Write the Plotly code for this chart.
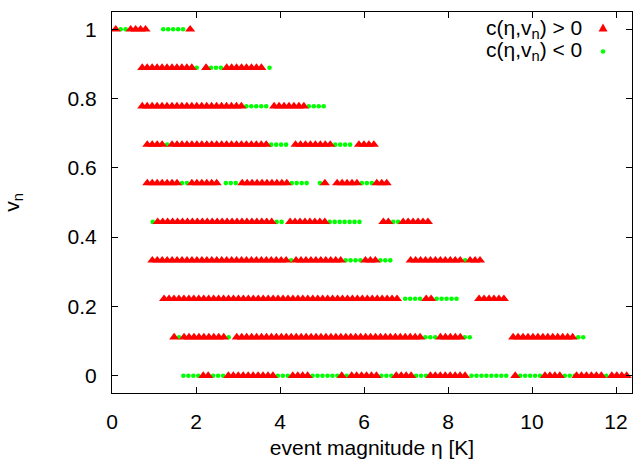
import plotly.graph_objects as go

# ---- data ----
# rows of v_n, each described by segments: (eta of first point, pattern)
# pattern chars: '+' -> c(eta, v_n) > 0, '-' -> c(eta, v_n) < 0
eta_step = 0.118
v_levels = [0.0, 0.111, 0.222, 0.333, 0.444, 0.556, 0.667, 0.778, 0.889, 1.0]

row_v0 = [(1.70, "----++---"), (2.77, "++++++++++---++++------"),
          (5.47, "+-++++++---++++---"), (7.58, "++++++++"),
          (8.56, "--------"), (9.60, "+-----++++---"), (11.06, "++++++-"),
          (11.90, "++++")]
row_v1 = [(1.48, "+-+++++++++-"), (2.97, "+" * 38), (7.46, "---"),
          (7.82, "+++++"), (8.40, "--"), (9.55, "+" * 13), (11.10, "--")]
row_v2 = [(1.24, "+" * 48), (6.98, "----"), (7.48, "++"), (7.73, "-----"),
          (8.74, "++++++")]
row_v3 = [(0.96, "+" * 28 + "-" + "+" * 10 + "----" + "+++" + "---"),
          (7.11, "+" * 11 + "-" + "+++")]
row_v4 = [(0.97, "-" + "+" * 24 + "--"), (4.24, "+" * 8 + "-------"),
          (6.46, "++--++++++")]
row_v5 = [(0.84, "+" * 7 + "--" + "+" * 6), (2.71, "---"),
          (3.10, "+" * 10 + "----"), (4.95, "-+"),
          (5.36, "+" * 5 + "---" + "+++")]
row_v6 = [(0.84, "++++-" + "+" * 20 + "----"), (4.37, "+" * 8 + "----"),
          (5.88, "++++")]
row_v7 = [(0.72, "+" * 21 + "-----"), (3.86, "+" * 7 + "----")]
row_v8 = [(0.72, "+" * 11 + "-"), (2.24, "+---"), (2.73, "+" * 8), (3.75, "-")]
row_v9 = [(0.09, "+--++++"), (1.22, "-----"), (1.86, "+")]

rows = [row_v0, row_v1, row_v2, row_v3, row_v4, row_v5, row_v6, row_v7,
        row_v8, row_v9]

x_ticks = [0, 2, 4, 6, 8, 10, 12]
y_ticks = [0, 0.2, 0.4, 0.6, 0.8, 1]
y_tick_labels = ["0", "0.2", "0.4", "0.6", "0.8", "1"]

pos_x, pos_y, neg_x, neg_y = [], [], [], []
for v, segs in zip(v_levels, rows):
    for start, pat in segs:
        for i, ch in enumerate(pat):
            e = start + i * eta_step
            if ch == "+":
                pos_x.append(e)
                pos_y.append(v)
            elif ch == "-":
                neg_x.append(e)
                neg_y.append(v)

FONT = "Liberation Sans, Arial, sans-serif"
FS = 21
RED = "#ff0000"
GREEN = "#00ff00"

fig = go.Figure()
fig.add_trace(go.Scatter(x=neg_x, y=neg_y, mode="markers", name="neg",
                         marker=dict(symbol="circle", size=4.6, color=GREEN,
                                     line=dict(width=0)),
                         showlegend=False, hoverinfo="x+y"))
fig.add_trace(go.Scatter(x=pos_x, y=pos_y, mode="markers", name="pos",
                         marker=dict(symbol="triangle-up", size=8.8, color=RED,
                                     line=dict(width=0)),
                         showlegend=False, hoverinfo="x+y"))

W, H = 633, 460
L, R, T, B = 112, 1, 12, 67
pw, ph = W - L - R, H - T - B


def px_x(p):
    return (p - L) / pw


def px_y(p):
    return (H - B - p) / ph


annotations = [
    dict(x=px_x(584), y=px_y(28.5), xref="paper", yref="paper",
         text="c(η,v<sub>n</sub>) > 0", showarrow=False, xanchor="right",
         yanchor="middle", font=dict(family=FONT, size=FS, color="black")),
    dict(x=px_x(584), y=px_y(51.5), xref="paper", yref="paper",
         text="c(η,v<sub>n</sub>) < 0", showarrow=False, xanchor="right",
         yanchor="middle", font=dict(family=FONT, size=FS, color="black")),
]

cx, cy = 603, 28.5
shapes = [
    dict(type="path", xref="paper", yref="paper",
         path=f"M {px_x(cx-4.5)} {px_y(cy+3)} L {px_x(cx+4.5)} {px_y(cy+3)} "
              f"L {px_x(cx)} {px_y(cy-5)} Z",
         fillcolor=RED, line=dict(width=0)),
    dict(type="circle", xref="paper", yref="paper",
         x0=px_x(cx - 2.3), x1=px_x(cx + 2.3),
         y0=px_y(51.5 + 2.3), y1=px_y(51.5 - 2.3),
         fillcolor=GREEN, line=dict(width=0)),
]

fig.update_layout(
    width=W, height=H,
    margin=dict(l=L, r=R, t=T, b=B, autoexpand=False),
    paper_bgcolor="white", plot_bgcolor="white",
    font=dict(family=FONT, size=FS, color="black"),
    annotations=annotations, shapes=shapes,
    xaxis=dict(range=[0, 12.38], tickvals=x_ticks, ticks="inside", ticklen=6,
               tickcolor="black", showline=True, linecolor="black",
               linewidth=1, mirror="ticks", showgrid=False, zeroline=False,
               tickfont=dict(family=FONT, size=FS, color="black"),
               ticklabelstandoff=10,
               title=dict(text="event magnitude η [K]", standoff=8,
                          font=dict(family=FONT, size=FS, color="black"))),
    yaxis=dict(range=[-0.05, 1.05], tickvals=y_ticks, ticktext=y_tick_labels,
               ticks="inside", ticklen=6, tickcolor="black", showline=True,
               linecolor="black", linewidth=1, mirror="ticks", showgrid=False,
               zeroline=False,
               tickfont=dict(family=FONT, size=FS, color="black"),
               ticklabelstandoff=10,
               title=dict(text="v<sub>n</sub>", standoff=42,
                          font=dict(family=FONT, size=FS, color="black"))),
)

fig.write_html("out.html", config={"displayModeBar": False},
               post_script="document.body.style.margin='0';"
                           "document.body.style.overflow='hidden';")
